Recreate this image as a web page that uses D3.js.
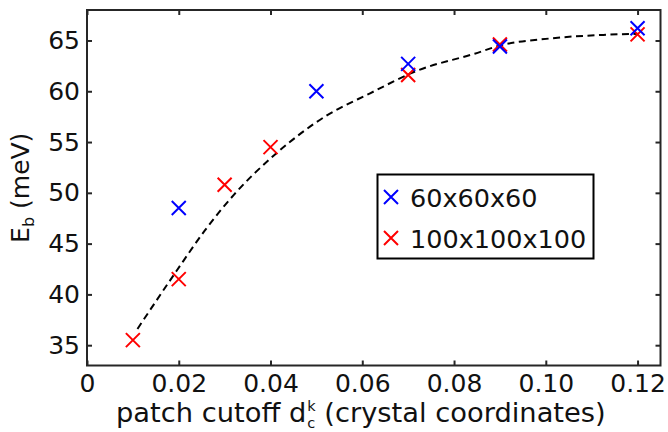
<!DOCTYPE html>
<html><head><meta charset="utf-8">
<script src="https://cdn.jsdelivr.net/npm/d3@7"></script>
<style>body{margin:0;background:#fff}svg{display:block}text{font-family:"DejaVu Sans",Verdana,sans-serif;fill:#111}</style>
</head><body>
<script>
const xTicks = [0, 0.02, 0.04, 0.06, 0.08, 0.10, 0.12];
const xTickLabels = ["0", "0.02", "0.04", "0.06", "0.08", "0.10", "0.12"];
const yTicks = [35, 40, 45, 50, 55, 60, 65];
const series60x = [0.02, 0.05, 0.07, 0.09, 0.12];
const series60y = [48.5, 60.0, 62.7, 64.4, 66.2];
const series100x = [0.01, 0.02, 0.03, 0.04, 0.07, 0.09, 0.12];
const series100y = [35.5, 41.5, 50.8, 54.5, 61.6, 64.6, 65.6];
const fitX = [0.011, 0.0195, 0.0257, 0.032, 0.0413, 0.0522, 0.0617, 0.0718, 0.0845, 0.09, 0.101, 0.1125, 0.12];
const fitY = [36.6, 42.3, 46.3, 49.8, 53.9, 57.6, 59.8, 62.0, 63.7, 64.5, 65.2, 65.55, 65.65];
const legendLabels = ["60x60x60", "100x100x100"];
const colors = ["#0000ff", "#ff0000"];

const W = 668, H = 432;
const m = {l: 87, r: 7.5, t: 10, b: 66.5};
const svg = d3.select("body").append("svg").attr("width", W).attr("height", H);
const x = d3.scaleLinear().domain([0, 0.125]).range([m.l, W - m.r]);
const y = d3.scaleLinear().domain([33, 68]).range([H - m.b, m.t]);
const tl = 5;

// fit curve
const line = d3.line().x(d => x(d[0])).y(d => y(d[1])).curve(d3.curveMonotoneX);
svg.append("path").datum(fitX.map((v, i) => [v, fitY[i]]))
  .attr("d", line).attr("fill", "none").attr("stroke", "#000")
  .attr("stroke-width", 2).attr("stroke-dasharray", "7,4.5");

function cross(g, px, py, col) {
  const s = 7;
  g.append("path").attr("d", `M${px - s},${py - s}L${px + s},${py + s}M${px - s},${py + s}L${px + s},${py - s}`)
    .attr("stroke", col).attr("stroke-width", 2).attr("fill", "none");
}
const gm = svg.append("g");
series100x.forEach((v, i) => cross(gm, x(v), y(series100y[i]), colors[1]));
series60x.forEach((v, i) => cross(gm, x(v), y(series60y[i]), colors[0]));

// axes
const xb = d3.axisBottom(x).tickValues(xTicks).tickFormat((d, i) => xTickLabels[i]).tickSize(-tl).tickPadding(9);
const xt = d3.axisTop(x).tickValues(xTicks).tickFormat("").tickSize(-tl);
const yl = d3.axisLeft(y).tickValues(yTicks).tickSize(-tl).tickPadding(7);
const yr = d3.axisRight(y).tickValues(yTicks).tickFormat("").tickSize(-tl);
function style(g) {
  g.select(".domain").remove();
  g.selectAll("line").attr("stroke", "#262626").attr("stroke-width", 2);
  g.selectAll("text").attr("font-size", 25).attr("font-family", "DejaVu Sans").attr("fill", "#111");
}
svg.append("g").attr("transform", `translate(0,${H - m.b})`).call(xb).call(style);
svg.append("g").attr("transform", `translate(0,${m.t})`).call(xt).call(style);
svg.append("g").attr("transform", `translate(${m.l},0)`).call(yl).call(style);
svg.append("g").attr("transform", `translate(${W - m.r},0)`).call(yr).call(style);
svg.append("rect").attr("x", m.l).attr("y", m.t).attr("width", W - m.r - m.l).attr("height", H - m.b - m.t)
  .attr("fill", "none").attr("stroke", "#262626").attr("stroke-width", 2);

// x label
const xl = svg.append("text").attr("x", 116).attr("y", 422).attr("font-size", 27.3);
xl.append("tspan").text("patch cutoff d");
xl.append("tspan").attr("font-size", 14.5).attr("dx", 1).attr("dy", 6).text("c");
xl.append("tspan").attr("font-size", 14.5).attr("dx", -8).attr("dy", -17).text("k");
xl.append("tspan").attr("dy", 11).text(" (crystal coordinates)");

// y label
const ylab = svg.append("text").attr("transform", `translate(29,${(m.t + H - m.b) / 2})rotate(-90)`).attr("text-anchor", "middle").attr("font-size", 25);
ylab.append("tspan").text("E");
ylab.append("tspan").attr("font-size", 16).attr("dy", 5).text("b");
ylab.append("tspan").attr("dy", -5).text(" (meV)");

// legend
const lg = svg.append("g");
lg.append("rect").attr("x", 377.5).attr("y", 174.5).attr("width", 216).attr("height", 84)
  .attr("fill", "#fff").attr("stroke", "#000").attr("stroke-width", 2);
legendLabels.forEach((t, i) => {
  const cy = 197 + i * 41;
  cross(lg, 391, cy, colors[i]);
  lg.append("text").attr("x", 410).attr("y", cy + 9.5).attr("font-size", 25.5).text(t);
});
</script>
</body></html>
